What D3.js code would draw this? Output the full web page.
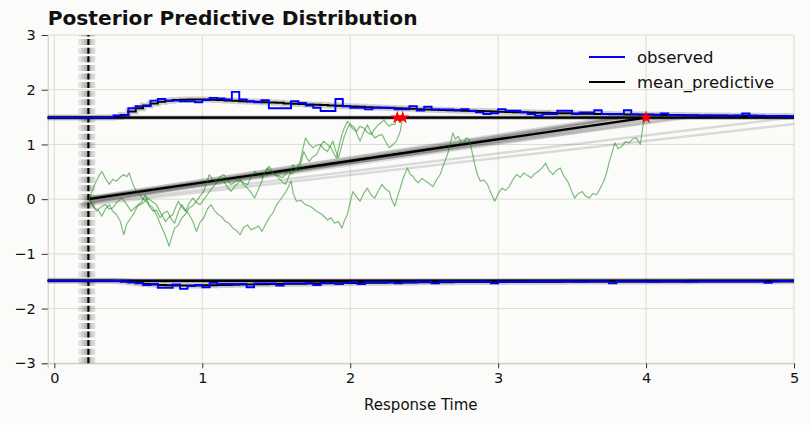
<!DOCTYPE html>
<html><head><meta charset="utf-8">
<script src="https://cdn.jsdelivr.net/npm/d3@7"></script>
<style>
body{margin:0;background:#fbfbf9}
svg{display:block}
text{font-family:"DejaVu Sans",sans-serif;fill:#111}
</style>
</head><body>
<svg id="c" width="810" height="425"></svg>
<script>
// ---------------- data ----------------
const xTicks = [0, 1, 2, 3, 4, 5];
const yTicks = [-3, -2, -1, 0, 1, 2, 3];
const binStart = 0, binWidth = 0.05, binEnd = 5;
const boundary = 1.49;
const ndtMean = 0.23, driftMean = 0.395, startMean = 0;
const ndtSamples      = [0.17, 0.19, 0.20, 0.205, 0.21, 0.215, 0.22, 0.225, 0.235, 0.24, 0.245, 0.25, 0.26, 0.27, 0.185];
const driftSamples    = [0.43, 0.425, 0.42, 0.415, 0.41, 0.405, 0.40, 0.40, 0.395, 0.39, 0.385, 0.38, 0.33, 0.36, 0.31];
const startSamples    = [-0.10, -0.06, -0.03, 0.02, -0.08, 0.03, -0.02, 0.01, -0.04, 0.02, -0.05, 0.00, -0.07, 0.04, -0.12];
const boundarySamples = [1.465, 1.475, 1.48, 1.485, 1.495, 1.50, 1.505, 1.515];

// histogram offsets from the boundary, bins of 0.05 starting at 0
const upperObserved = [
  0,0,0,0,0,0,0,0,.04,.04,
  .17,.21,.21,.31,.34,.31,.31,.30,.30,.28,
  .32,.36,.35,.33,.47,.33,.30,.28,.32,.17,
  .17,.17,.30,.27,.22,.18,.12,.12,.34,.21,
  .18,.18,.15,.18,.18,.18,.15,.15,.21,.13,
  .20,.15,.15,.15,.14,.155,.125,.095,.065,.08,
  .155,.125,.125,.095,.065,.035,.065,.065,.125,.125,
  .065,.095,.095,.135,.065,.065,.065,.135,.06,.05,
  .06,.05,.075,.045,.045,.04,.04,.035,.04,.035,
  .035,.035,.04,.075,.035,.035,.03,.03,.025,.02];
const upperMean = [
  0,0,0,0,0,0,0,0,.01,.05,
  .11,.17,.22,.26,.29,.31,.32,.325,.33,.33,
  .33,.325,.32,.315,.31,.30,.295,.29,.28,.275,
  .27,.26,.255,.25,.24,.235,.23,.22,.215,.21,
  .205,.20,.19,.185,.18,.175,.17,.165,.16,.155,
  .15,.145,.14,.135,.13,.127,.123,.12,.115,.11,
  .107,.103,.10,.097,.094,.09,.087,.084,.081,.078,
  .076,.073,.07,.068,.066,.063,.061,.059,.057,.055,
  .053,.051,.049,.047,.046,.044,.043,.041,.04,.038,
  .037,.036,.034,.033,.032,.031,.03,.029,.028,.027];
const lowerObserved = [
  0,0,0,0,0,0,0,0,.005,.015,
  .03,.045,.08,.06,.13,.13,.07,.15,.10,.08,
  .12,.04,.06,.06,.06,.06,.12,.05,.05,.05,
  .09,.05,.05,.05,.04,.08,.04,.04,.06,.04,
  .03,.06,.03,.03,.03,.03,.05,.03,.03,.02,
  .02,.05,.02,.02,.02,.02,.02,.02,.02,.05,
  .02,.02,.02,.02,.02,.015,.015,.015,.015,.015,
  .02,.02,.015,.015,.015,.05,.015,.015,.015,.015,
  .02,.02,.015,.015,.015,.02,.02,.015,.015,.015,
  .015,.015,.015,.015,.015,.015,.04,.015,.01,.01];
const lowerMean = [
  0,0,0,0,0,0,0,0,.005,.015,
  .03,.045,.06,.07,.08,.085,.09,.09,.09,.088,
  .085,.083,.08,.077,.075,.072,.07,.067,.065,.062,
  .06,.058,.056,.054,.052,.05,.048,.046,.045,.043,
  .042,.04,.039,.038,.036,.035,.034,.033,.032,.031,
  .03,.029,.028,.027,.026,.025,.025,.024,.023,.023,
  .022,.021,.021,.02,.02,.019,.019,.018,.018,.017,
  .017,.017,.016,.016,.016,.015,.015,.015,.014,.014,
  .014,.014,.013,.013,.013,.013,.012,.012,.012,.012,
  .012,.011,.011,.011,.011,.011,.01,.01,.01,.01];

// simulated evidence trajectories [time, evidence]
const trajectoryA = [[0.235,0],[0.25,-0.05],[0.272,-0.16],[0.296,-0.20],[0.321,-0.31],[0.345,-0.18],[0.371,-0.10],[0.395,-0.22],[0.420,-0.28],[0.445,-0.40],[0.469,-0.65],[0.49,-0.45],[0.518,-0.34],[0.54,-0.25],[0.567,-0.10],[0.59,-0.05],[0.616,0.08],[0.64,-0.12],[0.666,-0.22],[0.69,-0.20],[0.715,-0.34],[0.74,-0.25],[0.764,-0.22],[0.79,-0.36],[0.813,-0.44],[0.84,-0.22],[0.862,-0.10],[0.885,-0.20],[0.911,-0.28],[0.935,-0.40],[0.961,-0.59],[0.985,-0.42],[1.010,-0.34],[1.035,-0.18],[1.059,-0.10],[1.085,-0.22],[1.108,-0.28],[1.13,-0.32],[1.157,-0.41],[1.18,-0.44],[1.207,-0.53],[1.23,-0.57],[1.256,-0.65],[1.28,-0.52],[1.305,-0.47],[1.33,-0.56],[1.354,-0.53],[1.38,-0.49],[1.403,-0.59],[1.43,-0.45],[1.452,-0.34],[1.48,-0.24],[1.502,-0.10],[1.525,-0.02],[1.551,0.08],[1.575,0.18],[1.600,0.33],[1.615,0.10],[1.637,-0.04],[1.665,-0.02],[1.698,-0.10],[1.735,-0.14],[1.772,-0.22],[1.81,-0.28],[1.846,-0.38],[1.87,-0.34],[1.895,-0.44],[1.92,-0.41],[1.944,-0.53],[1.96,-0.40],[1.981,-0.28],[2.0,-0.05],[2.018,0.14],[2.04,0.05],[2.067,-0.04],[2.09,0.10],[2.116,0.20],[2.14,0.08],[2.166,0.02],[2.19,0.15],[2.215,0.27],[2.24,0.18],[2.264,0.14],[2.28,0.00],[2.301,-0.13],[2.32,0.05],[2.338,0.20],[2.36,0.40],[2.387,0.57],[2.405,0.45],[2.424,0.42],[2.44,0.35],[2.461,0.30],[2.485,0.38],[2.510,0.33],[2.535,0.28],[2.559,0.23],[2.585,0.36],[2.608,0.45],[2.63,0.62],[2.657,0.81],[2.675,1.0],[2.694,1.21],[2.71,1.10],[2.731,1.15],[2.75,1.02],[2.768,1.03],[2.785,1.12],[2.805,1.09],[2.825,0.85],[2.842,0.63],[2.86,0.45],[2.879,0.33],[2.905,0.35],[2.928,0.27],[2.95,0.12],[2.977,-0.04],[3.0,0.10],[3.026,0.20],[3.05,0.16],[3.075,0.23],[3.10,0.36],[3.125,0.45],[3.15,0.40],[3.174,0.48],[3.20,0.43],[3.223,0.39],[3.245,0.46],[3.272,0.51],[3.30,0.58],[3.321,0.66],[3.345,0.52],[3.371,0.45],[3.395,0.53],[3.420,0.57],[3.445,0.42],[3.469,0.33],[3.495,0.16],[3.518,0.02],[3.54,0.10],[3.567,0.14],[3.59,0.06],[3.616,0.02],[3.64,0.10],[3.666,0.08],[3.69,0.20],[3.715,0.33],[3.735,0.50],[3.752,0.69],[3.77,0.85],[3.789,1.03],[3.81,0.92],[3.838,0.97],[3.86,1.05],[3.887,1.03],[3.91,1.10],[3.936,1.12],[3.95,1.05],[3.961,1.00],[3.972,1.20],[3.980,1.36],[4.0,1.49]];
const trajectoryB = [[0.235,0],[0.26,0.18],[0.284,0.33],[0.30,0.42],[0.321,0.51],[0.345,0.38],[0.371,0.27],[0.395,0.36],[0.420,0.33],[0.445,0.40],[0.469,0.45],[0.49,0.41],[0.506,0.48],[0.525,0.32],[0.543,0.20],[0.555,0.16],[0.567,0.10],[0.58,0.08],[0.592,0.02],[0.615,-0.02],[0.641,-0.10],[0.665,-0.16],[0.690,-0.28],[0.715,-0.45],[0.739,-0.59],[0.755,-0.70],[0.776,-0.86],[0.795,-0.68],[0.813,-0.53],[0.84,-0.47],[0.862,-0.34],[0.885,-0.28],[0.911,-0.16],[0.935,-0.12],[0.961,-0.04],[0.985,0.06],[1.010,0.14],[1.03,0.30],[1.047,0.45],[1.07,0.36],[1.096,0.33],[1.12,0.41],[1.145,0.45],[1.17,0.35],[1.194,0.27],[1.225,0.32],[1.256,0.36],[1.28,0.26],[1.305,0.20],[1.33,0.12],[1.354,0.02],[1.38,0.18],[1.403,0.33],[1.42,0.47],[1.440,0.57],[1.465,0.50],[1.489,0.45],[1.515,0.43],[1.539,0.39],[1.565,0.46],[1.588,0.51],[1.605,0.46],[1.625,0.51],[1.645,0.60],[1.662,0.69],[1.68,0.92],[1.698,1.12],[1.72,1.02],[1.748,0.94],[1.77,0.98],[1.797,1.00],[1.82,0.92],[1.846,0.87],[1.865,0.97],[1.883,1.06],[1.90,0.90],[1.920,0.75],[1.94,0.95],[1.957,1.12],[1.975,1.25],[1.993,1.36],[2.02,1.28],[2.043,1.24],[2.065,1.33],[2.092,1.30],[2.115,1.22],[2.141,1.18],[2.165,1.28],[2.190,1.36],[2.21,1.40],[2.227,1.45],[2.245,1.38],[2.264,1.33],[2.28,1.37],[2.301,1.36],[2.318,1.49]];
const trajectoryC = [[0.235,0],[0.26,-0.12],[0.284,-0.22],[0.315,-0.14],[0.346,-0.10],[0.37,-0.18],[0.395,-0.16],[0.425,-0.05],[0.457,0.02],[0.49,-0.10],[0.518,-0.22],[0.55,-0.14],[0.580,-0.10],[0.605,-0.06],[0.629,0.02],[0.66,-0.04],[0.690,-0.10],[0.72,-0.26],[0.752,-0.41],[0.775,-0.33],[0.801,-0.28],[0.82,-0.15],[0.838,-0.04],[0.86,-0.14],[0.887,-0.22],[0.91,-0.08],[0.936,0.02],[0.96,-0.06],[0.985,-0.10],[1.01,-0.01],[1.034,0.08],[1.06,0.18],[1.084,0.26],[1.11,0.33],[1.133,0.39],[1.165,0.24],[1.194,0.14],[1.225,0.25],[1.256,0.33],[1.28,0.30],[1.305,0.26],[1.33,0.40],[1.354,0.51],[1.38,0.44],[1.403,0.39],[1.43,0.52],[1.452,0.60],[1.48,0.48],[1.514,0.39],[1.54,0.32],[1.563,0.27],[1.59,0.45],[1.612,0.63],[1.63,0.56],[1.649,0.51],[1.67,0.70],[1.686,0.87],[1.705,0.76],[1.723,0.69],[1.745,0.77],[1.772,0.81],[1.795,0.95],[1.821,1.06],[1.845,1.00],[1.871,0.94],[1.89,0.83],[1.907,0.75],[1.925,0.98],[1.944,1.18],[1.96,1.30],[1.981,1.42],[2.005,1.36],[2.030,1.30],[2.05,1.16],[2.067,1.06],[2.09,1.22],[2.116,1.36],[2.14,1.22],[2.166,1.12],[2.19,1.16],[2.215,1.18],[2.24,1.05],[2.264,0.94],[2.29,1.00],[2.313,1.06],[2.325,1.15],[2.338,1.24],[2.355,1.49]];
const trajectories = [trajectoryA, trajectoryB, trajectoryC];
const legendLabels = ["observed", "mean_predictive"];
const legendColors = ["#0000ff", "#000000"];

// ---------------- drawing ----------------
const svg = d3.select("#c");
const x = d3.scaleLinear().domain([-0.045, 5]).range([47.7, 794]);
const y = d3.scaleLinear().domain([-3, 3]).range([363.3, 35]);

svg.append("rect").attr("width", 810).attr("height", 425).attr("fill", "#fbfbf9");

// grid
const grid = svg.append("g").attr("stroke", "#dcdcd4").attr("stroke-width", 1);
grid.selectAll(".gx").data(xTicks).join("line")
  .attr("x1", d => x(d)).attr("x2", d => x(d)).attr("y1", y(-3)).attr("y2", y(3));
grid.selectAll(".gy").data(yTicks).join("line")
  .attr("y1", d => y(d)).attr("y2", d => y(d)).attr("x1", x.range()[0]).attr("x2", x.range()[1]);

// axes
const xAxis = svg.append("g").attr("transform", `translate(0,${y(-3)})`)
  .call(d3.axisBottom(x).tickValues(xTicks).tickSize(5).tickPadding(4).tickFormat(d3.format("d")));
const yAxis = svg.append("g").attr("transform", `translate(${x.range()[0]},0)`)
  .call(d3.axisLeft(y).tickValues(yTicks).tickSize(6).tickPadding(6).tickFormat(d => d < 0 ? "\u2212" + Math.abs(d) : d));
[xAxis, yAxis].forEach(a => {
  a.select(".domain").attr("stroke", "#c8c8c2");
  a.selectAll(".tick line").attr("stroke", "#333");
  a.selectAll(".tick text").attr("font-size", "14.5px").attr("fill", "#111").attr("font-family", "DejaVu Sans");
});

const plot = svg.append("g");

// boundary posterior samples & mean
plot.selectAll(".bs").data(boundarySamples.flatMap(b => [b, -b])).join("line")
  .attr("x1", x.range()[0]).attr("x2", x.range()[1]).attr("y1", d => y(d)).attr("y2", d => y(d))
  .attr("stroke", "#000").attr("stroke-opacity", 0.12).attr("stroke-width", 2);
plot.selectAll(".bm").data([boundary, -boundary]).join("line")
  .attr("x1", x.range()[0]).attr("x2", x.range()[1]).attr("y1", d => y(d)).attr("y2", d => y(d))
  .attr("stroke", "#000").attr("stroke-width", 2.4);

// non-decision time
plot.selectAll(".ts").data(ndtSamples).join("line")
  .attr("x1", d => x(d)).attr("x2", d => x(d)).attr("y1", y(-3)).attr("y2", y(3))
  .attr("stroke", "#000").attr("stroke-opacity", 0.1).attr("stroke-width", 2.2).attr("stroke-dasharray", "6,2.6");
plot.append("line").attr("x1", x(ndtMean)).attr("x2", x(ndtMean)).attr("y1", y(-3)).attr("y2", y(3))
  .attr("stroke", "#000").attr("stroke-width", 2.2).attr("stroke-dasharray", "6,2.6");

// drift lines
function driftPoints(t0, v, z) {
  let tEnd = t0 + (boundary - z) / v;
  if (tEnd > binEnd) tEnd = binEnd;
  return [[t0, z], [tEnd, z + v * (tEnd - t0)]];
}
const line = d3.line().x(d => x(d[0])).y(d => y(d[1]));
plot.selectAll(".ds").data(ndtSamples.map((t, i) => driftPoints(t, driftSamples[i], startSamples[i]))).join("path")
  .attr("d", line).attr("fill", "none").attr("stroke", "#000").attr("stroke-opacity", 0.13).attr("stroke-width", 2.5);
plot.append("path").attr("d", line(driftPoints(ndtMean, driftMean, startMean)))
  .attr("fill", "none").attr("stroke", "#000").attr("stroke-width", 2.4);

// histograms
function histPoints(vals, base, sign) {
  const pts = [[x.domain()[0], base]];
  vals.forEach((v, i) => pts.push([binStart + i * binWidth, base + sign * v]));
  pts.push([binEnd, base + sign * vals[vals.length - 1]]);
  return pts;
}
const step = d3.line().x(d => x(d[0])).y(d => y(d[1])).curve(d3.curveStepAfter);
[[upperMean, boundary, 1], [lowerMean, -boundary, -1]].forEach(([vals, b, s]) => {
  plot.append("path").attr("d", step(histPoints(vals, b, s))).attr("fill", "none")
    .attr("stroke", "#000").attr("stroke-opacity", 0.18).attr("stroke-width", 6);
  plot.append("path").attr("d", step(histPoints(vals, b, s))).attr("fill", "none")
    .attr("stroke", "#000").attr("stroke-width", 2);
});
[[upperObserved, boundary, 1], [lowerObserved, -boundary, -1]].forEach(([vals, b, s]) => {
  plot.append("path").attr("d", step(histPoints(vals, b, s))).attr("fill", "none")
    .attr("stroke", "#0000ff").attr("stroke-width", 1.9);
});

// trajectories
plot.selectAll(".tr").data(trajectories).join("path")
  .attr("d", line).attr("fill", "none").attr("stroke", "#008000").attr("stroke-opacity", 0.5)
  .attr("stroke-width", 1.2).attr("stroke-linejoin", "round");
plot.selectAll(".st").data(trajectories.map(t => t[t.length - 1])).join("path")
  .attr("d", d3.symbol(d3.symbolStar, 55))
  .attr("transform", d => `translate(${x(d[0])},${y(d[1])})`)
  .attr("fill", "#ff0000");

// title & labels
svg.append("text").attr("x", 47.7).attr("y", 25).attr("font-size", "20.2px").attr("font-weight", "bold")
  .text("Posterior Predictive Distribution");
svg.append("text").attr("x", (x.range()[0] + x.range()[1]) / 2).attr("y", 410).attr("text-anchor", "middle")
  .attr("font-size", "15px").text("Response Time");

// legend
const lg = svg.append("g").attr("transform", "translate(589,57)");
legendLabels.forEach((lab, i) => {
  lg.append("line").attr("x1", 0).attr("x2", 36).attr("y1", i * 25).attr("y2", i * 25)
    .attr("stroke", legendColors[i]).attr("stroke-width", 2);
  lg.append("text").attr("x", 48).attr("y", i * 25 + 5.5).attr("font-size", "16.5px").text(lab);
});
</script>
</body></html>
